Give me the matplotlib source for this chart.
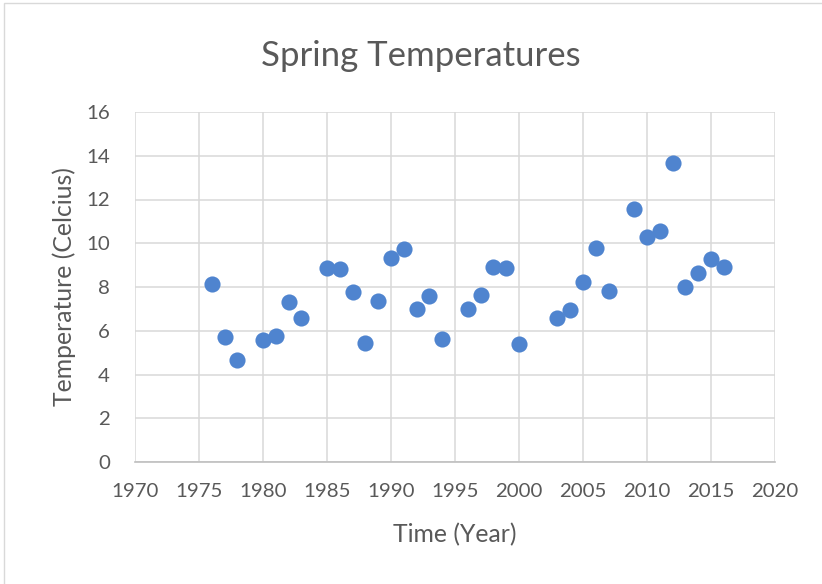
import matplotlib
matplotlib.use('Agg')
import matplotlib.pyplot as plt
from matplotlib.patches import Rectangle

years = [1976, 1977, 1978, 1980, 1981, 1982, 1983, 1985, 1986, 1987, 1988, 1989,
         1990, 1991, 1992, 1993, 1994, 1996, 1997, 1998, 1999, 2000, 2003, 2004,
         2005, 2006, 2007, 2009, 2010, 2011, 2012, 2013, 2014, 2015, 2016]
temps = [8.14, 5.71, 4.65, 5.56, 5.76, 7.31, 6.58, 8.87, 8.82, 7.75, 5.42, 7.36,
         9.33, 9.74, 6.99, 7.59, 5.62, 7.01, 7.63, 8.91, 8.87, 5.38, 6.58, 6.95,
         8.23, 9.77, 7.83, 11.56, 10.29, 10.56, 13.67, 7.98, 8.64, 9.28, 8.91]
x_ticks = list(range(1970, 2021, 5))
y_ticks = list(range(0, 17, 2))

plt.rcParams['font.family'] = ['Lato', 'DejaVu Sans']
text_col = '#595959'

fig = plt.figure(figsize=(8.22, 5.84), dpi=100)
fig.patches.append(Rectangle((4 / 822, -0.1), 2, 1.1 - 3 / 584, transform=fig.transFigure,
                             fill=False, edgecolor='#d9d9d9', linewidth=1))
ax = fig.add_axes([135 / 822, 1 - 462 / 584, 640 / 822, 350 / 584])

ax.scatter(years, temps, s=135, color='#4f84cf', zorder=3, linewidths=0)

ax.set_xlim(1970, 2020)
ax.set_ylim(0, 16)
ax.set_xticks(x_ticks)
ax.set_yticks(y_ticks)
ax.grid(True, color='#d9d9d9', linewidth=1.1, zorder=0)
for side in ['top', 'right', 'left']:
    ax.spines[side].set_visible(False)
ax.spines['bottom'].set_color('#bfbfbf')
ax.spines['bottom'].set_linewidth(1.2)
ax.tick_params(length=0, labelsize=14.7, labelcolor=text_col)
ax.tick_params(axis='x', pad=15)
ax.tick_params(axis='y', pad=18)

ax.set_xlabel('Time (Year)', fontsize=17.8, color=text_col, va='center')
ax.set_ylabel('Temperature (Celcius)', fontsize=17.8, color=text_col, va='center')
ax.xaxis.set_label_coords(0.5, (462 - 535) / 350)
ax.yaxis.set_label_coords((64 - 135) / 640, 0.5)
fig.text(0.512, 1 - 56 / 584, 'Spring Temperatures', fontsize=25, color=text_col,
         ha='center', va='center')

fig.savefig('out.png', dpi=100)
